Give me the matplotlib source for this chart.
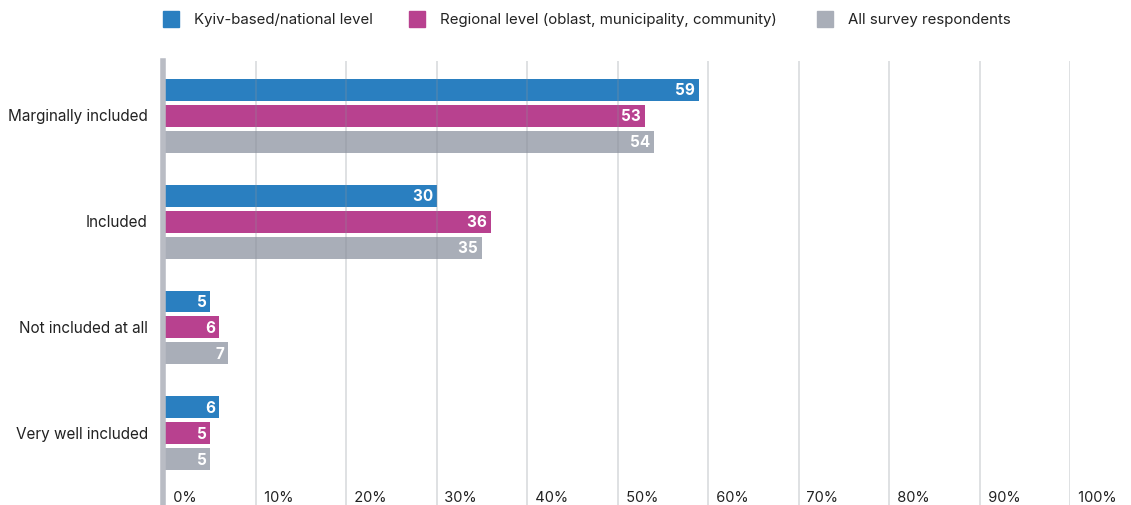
import matplotlib
matplotlib.use("Agg")
import matplotlib.pyplot as plt
from matplotlib.patches import Rectangle

plt.rcParams["font.family"] = ["Inter", "DejaVu Sans"]

categories = ["Marginally included", "Included", "Not included at all", "Very well included"]
series_names = ["Kyiv-based/national level",
                "Regional level (oblast, municipality, community)",
                "All survey respondents"]
kyiv = [59, 30, 5, 6]
regional = [53, 36, 6, 5]
all_resp = [54, 35, 7, 5]
tick_values = [0, 10, 20, 30, 40, 50, 60, 70, 80, 90, 100]

colors = ["#2a7fc0", "#b8418f", "#a9aeb8"]
series = [kyiv, regional, all_resp]

W, H = 1131, 506
fig = plt.figure(figsize=(W / 100, H / 100), dpi=100)

# axes box in pixel terms: x 165..1070, y 62..506
ax = fig.add_axes([165 / W, 0, (1070 - 165) / W, (506 - 62) / H])
ax.set_xlim(0, 100)
ax.set_ylim(3.679, -0.519)

bar_h = 22 / 106
step = 26 / 106
for i, (vals, col) in enumerate(zip(series, colors)):
    for g, v in enumerate(vals):
        y = g + (i - 1) * step
        ax.barh(y, v, height=bar_h, color=col, zorder=2)
        ax.text(v, y, f"{v} ", ha="right", va="center", color="white",
                fontsize=11, fontweight="bold", zorder=4)

# vertical gridlines, faintly visible through the bars
for t in tick_values[1:]:
    ax.axvline(t, color="#8a8f99", lw=1.2, zorder=3, alpha=0.32)
for t in tick_values:
    ax.text(t, 3.6, f"  {t}%", ha="left", va="center", fontsize=10.5,
            color="#222222")

ax.axvline(-0.2, color="#b9bcc4", lw=4, zorder=5, clip_on=False)

for g, c in enumerate(categories):
    ax.text(-1.9, g, c, ha="right", va="center", fontsize=11, color="#222222",
            clip_on=False)

ax.set_xticks([])
ax.set_yticks([])
for s in ax.spines.values():
    s.set_visible(False)

# legend row across the top
legend_x = [163, 409, 817]
for x, name, col in zip(legend_x, series_names, colors):
    fig.patches.append(Rectangle((x / W, 1 - 28 / H), 16 / W, 16 / H,
                                 transform=fig.transFigure, color=col))
    fig.text((x + 31) / W, 1 - 20 / H, name, ha="left", va="center",
             fontsize=10.8, color="#222222")

fig.savefig("out.png", dpi=100)
